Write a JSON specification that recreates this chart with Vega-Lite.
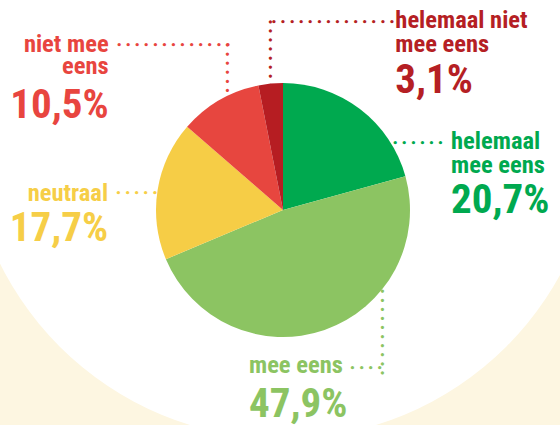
{
  "$schema": "https://vega.github.io/schema/vega-lite/v6.json",
  "autosize": {"type": "none"},
  "width": 554,
  "height": 420,
  "padding": {"left": 6, "top": 0, "right": 0, "bottom": 5},
  "background": "#fdf6e1",
  "config": {
    "view": {"stroke": null},
    "locale": {"number": {"decimal": ",", "thousands": ".", "grouping": [3], "currency": ["€ ", ""]}}
  },
  "data": {
    "values": [
      {"cat": "helemaal mee eens", "label": "helemaal\nmee eens", "share": 0.207, "ord": 1},
      {"cat": "mee eens", "label": "mee eens", "share": 0.479, "ord": 2},
      {"cat": "neutraal", "label": "neutraal", "share": 0.177, "ord": 3},
      {"cat": "niet mee eens", "label": "niet mee\neens", "share": 0.105, "ord": 4},
      {"cat": "helemaal niet mee eens", "label": "helemaal niet\nmee eens", "share": 0.031, "ord": 5}
    ]
  },
  "layer": [
    {
      "data": {"values": [{}]},
      "mark": {"type": "arc", "theta": 0, "theta2": 6.2832, "radius": 316, "yOffset": -87, "fill": "#ffffff"},
      "encoding": {}
    },
    {
      "encoding": {
        "theta": {"field": "share", "type": "quantitative", "stack": true},
        "order": {"field": "ord", "type": "quantitative"},
        "radius": {"value": 127}
      },
      "layer": [
        {
          "mark": {"type": "arc"},
          "encoding": {
            "color": {
              "field": "cat", "type": "nominal", "legend": null,
              "scale": {
                "domain": ["helemaal mee eens", "mee eens", "neutraal", "niet mee eens", "helemaal niet mee eens"],
                "range": ["#00a94f", "#8cc462", "#f6cd46", "#e7463f", "#b61d22"]
              }
            }
          }
        },
        {
          "mark": {"type": "text", "font": "Roboto Condensed, Roboto", "fontWeight": "bold", "fontSize": 24.5, "lineHeight": 22, "lineBreak": "\n", "align": "right", "baseline": "alphabetic", "dx": -110.7, "dy": -48.5, "color": "#e8453f"},
          "encoding": {"text": {"condition": {"test": "datum.cat === 'niet mee eens'", "field": "label"}, "value": ""}}
        },
        {
          "mark": {"type": "text", "font": "Roboto Condensed, Roboto", "fontWeight": "bold", "fontSize": 41, "align": "right", "baseline": "alphabetic", "dx": -110.7, "dy": 17.5, "color": "#e8453f"},
          "encoding": {"text": {"condition": {"test": "datum.cat === 'niet mee eens'", "field": "share", "type": "quantitative", "format": ".1%"}, "value": ""}}
        },
        {
          "mark": {"type": "text", "font": "DejaVu Sans", "fontWeight": "bold", "fontSize": 9.2, "align": "left", "baseline": "middle", "dx": -103.2, "dy": -55.2, "color": "#e8453f"},
          "encoding": {"text": {"condition": {"test": "datum.cat === 'niet mee eens'", "value": "• • • • • • • • • • • • •"}, "value": ""}}
        },
        {
          "mark": {"type": "text", "font": "DejaVu Sans", "fontWeight": "bold", "fontSize": 9.2, "angle": 90, "align": "left", "baseline": "middle", "dx": -58, "dy": -7.3, "color": "#e8453f"},
          "encoding": {"text": {"condition": {"test": "datum.cat === 'niet mee eens'", "value": "• • • • • •"}, "value": ""}}
        },
        {
          "mark": {"type": "text", "font": "Roboto Condensed, Roboto", "fontWeight": "bold", "fontSize": 24.5, "lineHeight": 23.5, "lineBreak": "\n", "align": "left", "baseline": "alphabetic", "dx": 124.7, "dy": -55.6, "color": "#b51f24"},
          "encoding": {"text": {"condition": {"test": "datum.cat === 'helemaal niet mee eens'", "field": "label"}, "value": ""}}
        },
        {
          "mark": {"type": "text", "font": "Roboto Condensed, Roboto", "fontWeight": "bold", "fontSize": 41, "align": "left", "baseline": "alphabetic", "dx": 124.7, "dy": 9.7, "color": "#b51f24"},
          "encoding": {"text": {"condition": {"test": "datum.cat === 'helemaal niet mee eens'", "field": "share", "type": "quantitative", "format": ".1%"}, "value": ""}}
        },
        {
          "mark": {"type": "text", "font": "DejaVu Sans", "fontWeight": "bold", "fontSize": 9.2, "align": "left", "baseline": "middle", "dx": 0.4, "dy": -61.9, "color": "#b51f24"},
          "encoding": {"text": {"condition": {"test": "datum.cat === 'helemaal niet mee eens'", "value": "• • • • • • • • • • • • • •"}, "value": ""}}
        },
        {
          "mark": {"type": "text", "font": "DejaVu Sans", "fontWeight": "bold", "fontSize": 9.2, "angle": 90, "align": "left", "baseline": "middle", "dx": -64.7, "dy": 0.6, "color": "#b51f24"},
          "encoding": {"text": {"condition": {"test": "datum.cat === 'helemaal niet mee eens'", "value": "• • • • • • • •"}, "value": ""}}
        },
        {
          "mark": {"type": "text", "font": "Roboto Condensed, Roboto", "fontWeight": "bold", "fontSize": 24.5, "lineHeight": 23.4, "lineBreak": "\n", "align": "left", "baseline": "alphabetic", "dx": 91.1, "dy": 40.4, "color": "#00a94f"},
          "encoding": {"text": {"condition": {"test": "datum.cat === 'helemaal mee eens'", "field": "label"}, "value": ""}}
        },
        {
          "mark": {"type": "text", "font": "Roboto Condensed, Roboto", "fontWeight": "bold", "fontSize": 41, "align": "left", "baseline": "alphabetic", "dx": 91.1, "dy": 103.8, "color": "#00a94f"},
          "encoding": {"text": {"condition": {"test": "datum.cat === 'helemaal mee eens'", "field": "share", "type": "quantitative", "format": ".1%"}, "value": ""}}
        },
        {
          "mark": {"type": "text", "font": "DejaVu Sans", "fontWeight": "bold", "fontSize": 9.2, "align": "left", "baseline": "middle", "dx": 32.3, "dy": 33.8, "color": "#00a94f"},
          "encoding": {"text": {"condition": {"test": "datum.cat === 'helemaal mee eens'", "value": "• • • • • •"}, "value": ""}}
        },
        {
          "mark": {"type": "text", "font": "Roboto Condensed, Roboto", "fontWeight": "bold", "fontSize": 24.5, "align": "right", "baseline": "alphabetic", "dx": -49.5, "dy": 11.5, "color": "#f6ce47"},
          "encoding": {"text": {"condition": {"test": "datum.cat === 'neutraal'", "field": "label"}, "value": ""}}
        },
        {
          "mark": {"type": "text", "font": "Roboto Condensed, Roboto", "fontWeight": "bold", "fontSize": 41, "align": "right", "baseline": "alphabetic", "dx": -49.5, "dy": 51.5, "color": "#f6ce47"},
          "encoding": {"text": {"condition": {"test": "datum.cat === 'neutraal'", "field": "share", "type": "quantitative", "format": ".1%"}, "value": ""}}
        },
        {
          "mark": {"type": "text", "font": "DejaVu Sans", "fontWeight": "bold", "fontSize": 9.2, "align": "left", "baseline": "middle", "dx": -42, "dy": 2.8, "color": "#f6ce47"},
          "encoding": {"text": {"condition": {"test": "datum.cat === 'neutraal'", "value": "• • • • •"}, "value": ""}}
        },
        {
          "mark": {"type": "text", "font": "Roboto Condensed, Roboto", "fontWeight": "bold", "fontSize": 24.5, "align": "left", "baseline": "alphabetic", "dx": -75.6, "dy": 43.4, "color": "#8cc462"},
          "encoding": {"text": {"condition": {"test": "datum.cat === 'mee eens'", "field": "label"}, "value": ""}}
        },
        {
          "mark": {"type": "text", "font": "Roboto Condensed, Roboto", "fontWeight": "bold", "fontSize": 41, "align": "left", "baseline": "alphabetic", "dx": -75.6, "dy": 86.8, "color": "#8cc462"},
          "encoding": {"text": {"condition": {"test": "datum.cat === 'mee eens'", "field": "share", "type": "quantitative", "format": ".1%"}, "value": ""}}
        },
        {
          "mark": {"type": "text", "font": "DejaVu Sans", "fontWeight": "bold", "fontSize": 9.2, "align": "left", "baseline": "middle", "dx": 25, "dy": 38.1, "color": "#8cc462"},
          "encoding": {"text": {"condition": {"test": "datum.cat === 'mee eens'", "value": "• • • •"}, "value": ""}}
        },
        {
          "mark": {"type": "text", "font": "DejaVu Sans", "fontWeight": "bold", "fontSize": 9.2, "angle": 90, "align": "left", "baseline": "middle", "dx": -41.7, "dy": -57.4, "color": "#8cc462"},
          "encoding": {"text": {"condition": {"test": "datum.cat === 'mee eens'", "value": "• • • • • • • • • •"}, "value": ""}}
        }
      ]
    }
  ]
}
